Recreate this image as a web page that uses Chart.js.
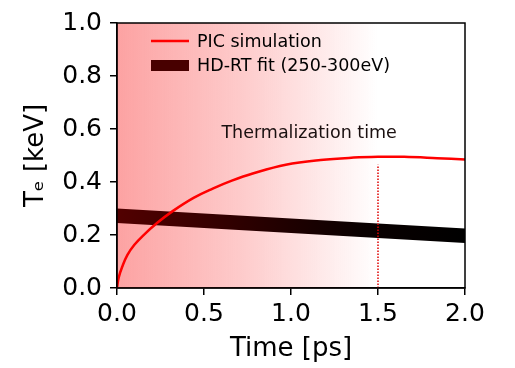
<!DOCTYPE html>
<html>
<head>
<meta charset="utf-8">
<script src="https://cdn.jsdelivr.net/npm/chart.js@4/dist/chart.umd.min.js"></script>
<style>
  html, body { margin: 0; padding: 0; background: #fff; }
</style>
</head>
<body>
<canvas id="chart" width="515" height="368"></canvas>
<script>
// ======= DATA =======
const picTime = [0, 0.01, 0.03, 0.06, 0.1, 0.15, 0.23, 0.32, 0.44, 0.55, 0.66, 0.78, 0.97, 1.17, 1.36, 1.5, 1.65, 1.84, 2.0];
const picTe   = [0, 0.04, 0.08, 0.125, 0.163, 0.198, 0.245, 0.29, 0.34, 0.375, 0.405, 0.432, 0.465, 0.483, 0.492, 0.495, 0.495, 0.49, 0.485];

const fitTime = [0, 2.0];
const fitLow  = [0.245, 0.17];
const fitHigh = [0.30, 0.225];

const thermTime = 1.5;
const thermTop  = 0.465;

const xTicks = [0, 0.5, 1.0, 1.5, 2.0];
const yTicks = [0, 0.2, 0.4, 0.6, 0.8, 1.0];

const labelPic = "PIC simulation";
const labelFit = "HD-RT fit (250-300eV)";
const labelTherm = "Thermalization time";

Chart.defaults.font.family = "'DejaVu Sans', sans-serif";
Chart.defaults.color = "#000";

const pts = (xs, ys) => xs.map((x, i) => ({ x: x, y: ys[i] }));

// ======= PLUGINS =======
const deco = {
  id: "deco",
  beforeDatasetsDraw(chart) {
    const { ctx, chartArea: a, scales } = chart;
    const x0 = scales.x.getPixelForValue(0);
    const x1 = scales.x.getPixelForValue(thermTime);
    const g = ctx.createLinearGradient(x0, 0, x1, 0);
    g.addColorStop(0, "rgba(250,70,70,0.5)");
    g.addColorStop(0.5, "rgba(250,70,70,0.27)");
    g.addColorStop(1, "rgba(250,70,70,0)");
    ctx.save();
    ctx.fillStyle = g;
    ctx.fillRect(a.left, a.top, x1 - a.left, a.bottom - a.top);
    ctx.restore();
  },
  afterDraw(chart) {
    const { ctx, chartArea: a, scales } = chart;
    ctx.save();
    ctx.strokeStyle = "#000";
    ctx.lineWidth = 1.5;
    ctx.strokeRect(a.left, a.top, a.right - a.left, a.bottom - a.top);

    // legend
    ctx.font = "17.5px 'DejaVu Sans'";
    ctx.textBaseline = "middle";
    ctx.fillStyle = "#000";
    ctx.strokeStyle = "#ff0000";
    ctx.lineWidth = 2.5;
    ctx.beginPath();
    ctx.moveTo(a.left + 34, 41);
    ctx.lineTo(a.left + 72, 41);
    ctx.stroke();
    ctx.fillText(labelPic, a.left + 80, 42);
    ctx.fillStyle = "rgb(72,0,0)";
    ctx.fillRect(a.left + 34, 60, 38, 11);
    ctx.fillStyle = "#000";
    ctx.fillText(labelFit, a.left + 80, 66);

    ctx.fillStyle = "#1a1010";
    ctx.fillText(labelTherm, scales.x.getPixelForValue(0.6), scales.y.getPixelForValue(0.585));
    ctx.restore();
  }
};

const bandFill = (c) => {
  const a = c.chart.chartArea;
  if (!a) return "rgb(40,0,0)";
  const g = c.chart.ctx.createLinearGradient(a.left, 0, a.right, 0);
  g.addColorStop(0, "rgb(82,0,0)");
  g.addColorStop(0.7, "rgb(10,0,0)");
  g.addColorStop(1, "rgb(0,0,0)");
  return g;
};

// ======= GRAFIK =======
new Chart(document.getElementById("chart"), {
  type: "line",
  data: {
    datasets: [
      {
        label: "fit low",
        data: pts(fitTime, fitLow),
        borderWidth: 0,
        pointRadius: 0,
        fill: false,
        order: 3
      },
      {
        label: labelFit,
        data: pts(fitTime, fitHigh),
        borderWidth: 0,
        pointRadius: 0,
        fill: 0,
        backgroundColor: bandFill,
        order: 2
      },
      {
        label: "therm",
        data: pts([thermTime, thermTime], [0, thermTop]),
        borderColor: "#e00000",
        borderWidth: 1.5,
        borderDash: [1.5, 1.5],
        pointRadius: 0,
        fill: false,
        order: 1
      },
      {
        label: labelPic,
        data: pts(picTime, picTe),
        borderColor: "#ff0000",
        borderWidth: 2.5,
        pointRadius: 0,
        tension: 0.4,
        fill: false,
        order: 0
      }
    ]
  },
  options: {
    responsive: false,
    animation: false,
    devicePixelRatio: 1,
    layout: { padding: { left: 0, top: 15, right: 50, bottom: 0 } },
    plugins: { legend: { display: false }, tooltip: { enabled: false } },
    scales: {
      x: {
        type: "linear",
        min: 0, max: 2,
        afterBuildTicks: (s) => { s.ticks = xTicks.map(v => ({ value: v })); },
        afterFit: (s) => { s.height = 80; },
        ticks: {
          font: { size: 25 },
          padding: 4,
          callback: (v) => v.toFixed(1)
        },
        grid: { drawOnChartArea: false, drawTicks: true, tickLength: 7, color: "#000", lineWidth: 1.5 },
        border: { color: "#000", width: 1.5 },
        title: {
          display: true,
          text: "Time [ps]",
          font: { size: 26, lineHeight: 1.2 },
          padding: { top: 0, bottom: 3 }
        }
      },
      y: {
        min: 0, max: 1,
        afterBuildTicks: (s) => { s.ticks = yTicks.map(v => ({ value: v })); },
        afterFit: (s) => { s.width = 117; },
        ticks: {
          font: { size: 25 },
          padding: 8,
          callback: (v) => v.toFixed(1)
        },
        grid: { drawOnChartArea: false, drawTicks: true, tickLength: 7, color: "#000", lineWidth: 1.5 },
        border: { color: "#000", width: 1.5 },
        title: {
          display: true,
          text: "Tₑ [keV]",
          font: { size: 26, lineHeight: 1.2 },
          padding: { top: 21, bottom: 0 }
        }
      }
    }
  },
  plugins: [deco]
});
</script>
</body>
</html>
